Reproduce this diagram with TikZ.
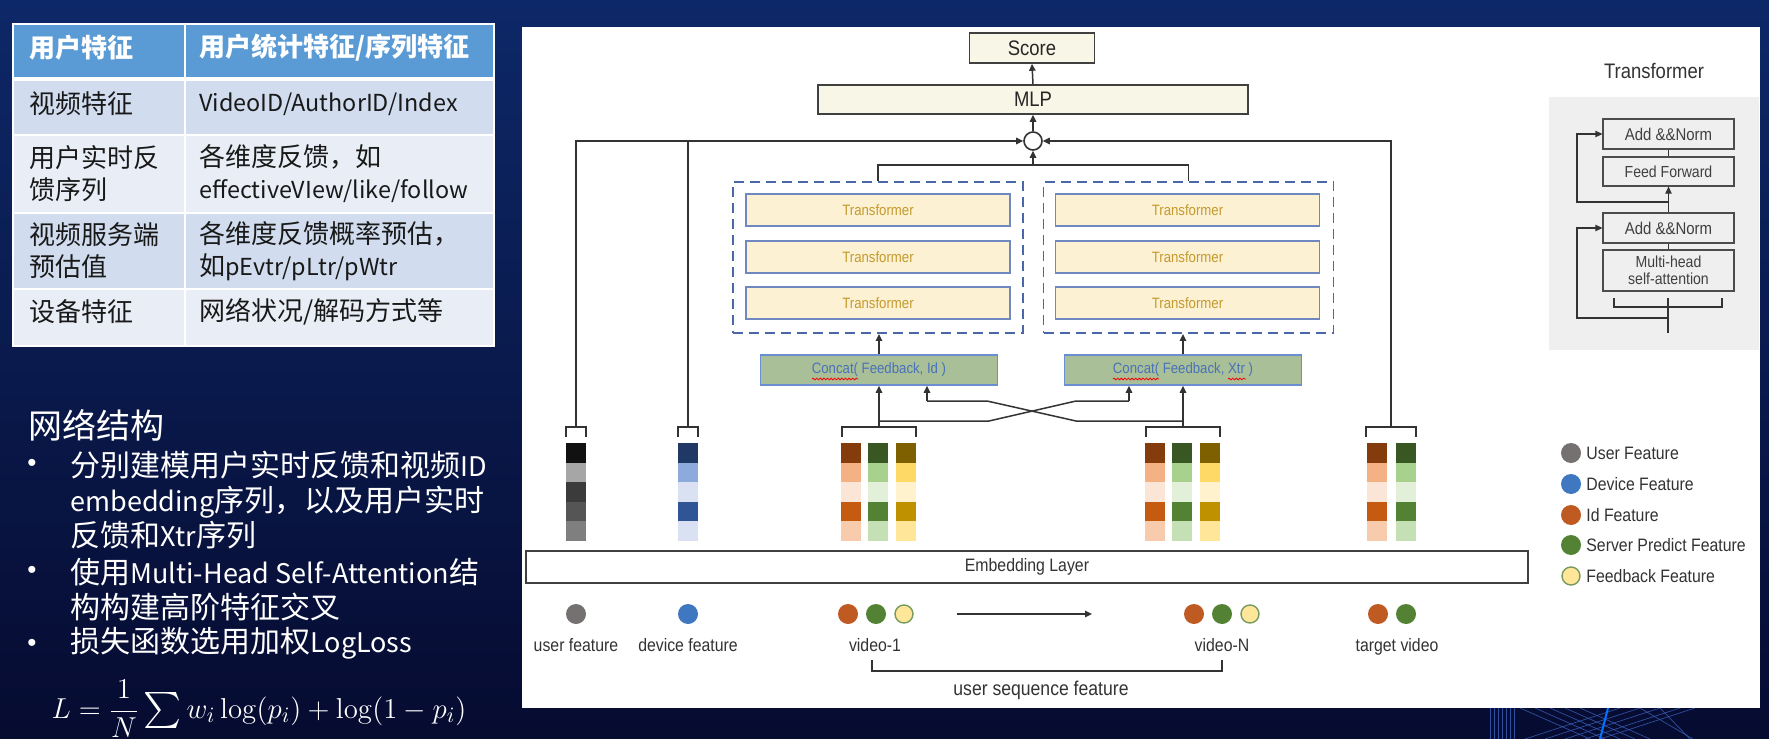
\documentclass[tikz,border=0pt]{standalone}
\usepackage[no-math]{fontspec}
\setmainfont{Liberation Sans}
\newfontfamily\cjk{Noto Sans CJK SC}
\newfontfamily\cjkl[Scale=0.9]{Noto Sans CJK SC}
\newfontfamily\dg[FakeStretch=0.88]{Liberation Sans}
\usetikzlibrary{arrows.meta,decorations.pathmorphing}
\definecolor{bgtop}{HTML}{0D2868}
\definecolor{bgmid}{HTML}{0B1E5C}
\definecolor{bgbot}{HTML}{060B30}
\definecolor{thead}{HTML}{5B9BD5}
\definecolor{rowA}{HTML}{D1DDEE}
\definecolor{rowB}{HTML}{E9EEF6}
\definecolor{cream}{HTML}{F8F6E6}
\definecolor{tfill}{HTML}{FCF1D2}
\definecolor{tborder}{HTML}{7088C0}
\definecolor{tgold}{HTML}{C49A2E}
\definecolor{dashblue}{HTML}{4A68A8}
\definecolor{cfill}{HTML}{A8BF98}
\definecolor{cborder}{HTML}{6A8ED0}
\definecolor{ctext}{HTML}{4A72B8}
\definecolor{panelgray}{HTML}{EFEFEF}
\definecolor{dotgray}{HTML}{767171}
\definecolor{dotblue}{HTML}{3F78C0}
\definecolor{dotorange}{HTML}{C05A23}
\definecolor{dotgreen}{HTML}{548235}
\definecolor{dotyellow}{HTML}{FFE699}
\definecolor{deco}{HTML}{3A5FB8}
\definecolor{u1}{HTML}{111111}\definecolor{u2}{HTML}{A6A6A6}\definecolor{u3}{HTML}{3B3B3B}\definecolor{u4}{HTML}{555555}\definecolor{u5}{HTML}{7F7F7F}
\definecolor{d1}{HTML}{203864}\definecolor{d2}{HTML}{8EA9DB}\definecolor{d3}{HTML}{D9E1F2}\definecolor{d4}{HTML}{2F5597}\definecolor{d5}{HTML}{D9E1F2}
\definecolor{i1}{HTML}{843C0C}\definecolor{i2}{HTML}{F4B183}\definecolor{i3}{HTML}{FBE5D6}\definecolor{i4}{HTML}{C55A11}\definecolor{i5}{HTML}{F8CBAD}
\definecolor{g1}{HTML}{385723}\definecolor{g2}{HTML}{A9D18E}\definecolor{g3}{HTML}{E2F0D9}\definecolor{g4}{HTML}{548235}\definecolor{g5}{HTML}{C5E0B4}
\definecolor{y1}{HTML}{7F6000}\definecolor{y2}{HTML}{FFD966}\definecolor{y3}{HTML}{FFF2CC}\definecolor{y4}{HTML}{BF9000}\definecolor{y5}{HTML}{FFE699}
\newcommand\embcol[3]{%
  \foreach \c [count=\i] in {#3} {
    \node[cell, fill=\c] (#1-\i) at (#2, {452.75+19.5*(\i-1)}) {};
  }}
\newcommand\brk[3]{%
  \draw[ln] (#1,437) -- (#1,427) -- (#2,427) -- (#2,437);
  \coordinate (#3) at ({(#1+#2)/2},427);}
\newcommand\La[1]{{\cjkl #1}}
\newcommand\bigsum{\mathop{\vcenter{\hbox{\scalebox{1.8}{$\sum$}}}}}
\begin{document}
\begin{tikzpicture}[x=0.5pt,y=-0.5pt,
  ln/.style={line width=0.75pt, draw=black!80},
  arr/.style={ln, -{Triangle[length=3.5pt,width=3.2pt]}},
  wavy/.style={draw=red, line width=0.4pt, decorate, decoration={snake, amplitude=0.45pt, segment length=1.8pt}},
  sbox/.style={draw=black!75, line width=0.8pt, fill=cream, inner sep=0, font=\dg\fontsize{10.5}{12}\selectfont, text=black!85},
  tbox/.style={draw=tborder, line width=0.8pt, fill=tfill, text=tgold, font=\dg\fontsize{7.5}{9}\selectfont, minimum width=132pt, minimum height=16pt, inner sep=0},
  dbox/.style={draw=dashblue, dash pattern=on 5pt off 3pt, line width=0.9pt, minimum width=145pt, minimum height=75.5pt, inner sep=0},
  cbox/.style={draw=cborder, fill=cfill, line width=0.8pt, text=ctext, font=\dg\fontsize{7.5}{9}\selectfont, minimum width=118.5pt, minimum height=15pt, inner sep=0},
  cell/.style={minimum width=10pt, minimum height=9.75pt, inner sep=0, draw=none},
  dot/.style={circle, minimum size=10pt, inner sep=0},
  lbl/.style={font=\dg\fontsize{9}{11}\selectfont, text=black!80, inner sep=0},
  pbox/.style={draw=black!70, line width=0.6pt, fill=panelgray, minimum width=65.5pt, inner sep=0, text=black!75, font=\dg\fontsize{8.5}{8.7}\selectfont, align=center},
  tabh/.style={anchor=west, inner sep=0, text=white, font=\cjk\bfseries\fontsize{13}{16}\selectfont},
  tabt/.style={anchor=west, inner sep=0, text=black!90, align=left, font=\cjk\fontsize{13}{16}\selectfont},
  wtxt/.style={anchor=west, inner sep=0, text=white, align=left, font=\cjk\fontsize{15}{17.5}\selectfont},
]
\useasboundingbox (0,0) rectangle (1769,739);
% background
\shade[top color=bgtop, middle color=bgmid, bottom color=bgbot] (0,0) rectangle (1769,739);
% decorative lines bottom right
\begin{scope}[draw=deco, line width=0.35pt, opacity=0.8]
  \foreach \xx in {1490,1494,1498,1502,1506,1510,1514}
    \draw (\xx,708) -- (\xx,739);
  \foreach \xx in {1520,1535,1550,1565,1580}
    \draw (\xx,708) -- ({\xx+70},739);
  \foreach \xx in {1620,1640,1660,1680,1695}
    \draw (\xx,708) -- ({\xx-95},739);
  \draw (1640,708) -- (1693,739);
  \draw (1660,708) -- (1690,739);
\end{scope}
\draw[color=blue!55!cyan, line width=1pt] (1608,708) -- (1600,739);
% white panel
\fill[white] (522,27) rectangle (1760,708);

% ---------- table ----------
\fill[thead] (13,24) rectangle (494,79);
\fill[rowA] (13,79) rectangle (494,135);
\fill[rowB] (13,135) rectangle (494,213);
\fill[rowA] (13,213) rectangle (494,289);
\fill[rowB] (13,289) rectangle (494,346);
\draw[white, line width=1.2pt] (13,24) rectangle (494,346);
\draw[white, line width=2.2pt] (13,79) -- (494,79);
\draw[white, line width=1pt] (13,135) -- (494,135) (13,213) -- (494,213) (13,289) -- (494,289) (185,24) -- (185,346);
\node[tabh] (h1) at (29,48) {用户特征};
\node[tabh] (h2) at (199,48) {用户统计特征/序列特征};
\node[tabt] (r1a) at (29,104) {视频特征};
\node[tabt] (r1b) at (199,104) {\La{VideoID/AuthorID/Index}};
\node[tabt] (r2a) at (29,174) {用户实时反\\馈序列};
\node[tabt] (r2b) at (199,174) {各维度反馈，如\\\La{effectiveVIew/like/follow}};
\node[tabt] (r3a) at (29,251) {视频服务端\\预估值};
\node[tabt] (r3b) at (199,251) {各维度反馈概率预估，\\如\La{pEvtr/pLtr/pWtr}};
\node[tabt] (r4a) at (29,312) {设备特征};
\node[tabt] (r4b) at (199,312) {网络状况/解码方式等};

% ---------- left text ----------
\node[anchor=west, inner sep=0, text=white, font=\cjk\fontsize{17}{20}\selectfont] (title) at (28,425) {网络结构};
\node[text=white, inner sep=0, font=\fontsize{13}{15}\selectfont] (b1) at (32,465) {•};
\node[text=white, inner sep=0, font=\fontsize{13}{15}\selectfont] (b2) at (32,572) {•};
\node[text=white, inner sep=0, font=\fontsize{13}{15}\selectfont] (b3) at (32,645) {•};
\node[wtxt] (t1) at (70,500) {分别建模用户实时反馈和视频\La{ID}\\\La{embedding}序列，以及用户实时\\反馈和\La{Xtr}序列};
\node[wtxt] (t2) at (70,589.5) {使用\La{Multi-Head Self-Attention}结\\构构建高阶特征交叉};
\node[wtxt] (t3) at (70,643) {损失函数选用加权\La{LogLoss}};
\node[text=white, inner sep=0, font=\fontsize{15.5}{17}\selectfont] (formula) at (259,709) {$\displaystyle L=\frac{1}{N}\bigsum w_i\log(p_i)+\log(1-p_i)$};

% ---------- main diagram ----------
\node[sbox, minimum width=62.5pt, minimum height=15pt] (score) at (1032,48) {Score};
\node[sbox, minimum width=215pt, minimum height=14.5pt] (mlp) at (1033,99.5) {MLP};
\node[circle, draw=black!80, line width=0.8pt, fill=white, minimum size=9pt, inner sep=0] (circ) at (1033,141) {};
\draw[arr] (circ.north) -- (mlp.south);
\draw[arr] (mlp.north) -- (score.south);

\node[dbox] (dashL) at (878,257.5) {};
\node[dbox] (dashR) at (1188.5,257.5) {};
\foreach \yy/\k in {210/1,257/2,303/3} {
  \node[tbox] (tL\k) at (878,\yy) {Transformer};
  \node[tbox] (tR\k) at (1187.5,\yy) {Transformer};
}
\coordinate (jn) at (1033,165);
\draw[ln] (dashL.north) -- (dashL.north |- jn) -- (dashR.north |- jn) -- (dashR.north);
\draw[arr] (jn) -- (circ.south);

\node[cbox] (concatL) at (879,370) {Concat( Feedback, Id )};
\node[cbox] (concatR) at (1183,370) {Concat( Feedback, Xtr )};
\draw[wavy] (812,379) -- (858,379);
\draw[wavy] (1113,379) -- (1159,379);
\draw[wavy] (1228,379) -- (1246,379);
\draw[arr] (concatL.north) -- (concatL.north |- dashL.south);
\draw[arr] (concatR.north) -- (concatR.north |- dashR.south);

% embedding columns
\embcol{uc}{576}{u1,u2,u3,u4,u5}
\embcol{dc}{688}{d1,d2,d3,d4,d5}
\embcol{v1a}{851}{i1,i2,i3,i4,i5}
\embcol{v1b}{878}{g1,g2,g3,g4,g5}
\embcol{v1c}{906}{y1,y2,y3,y4,y5}
\embcol{vNa}{1155}{i1,i2,i3,i4,i5}
\embcol{vNb}{1182}{g1,g2,g3,g4,g5}
\embcol{vNc}{1210}{y1,y2,y3,y4,y5}
\embcol{ta}{1377}{i1,i2,i3,i4,i5}
\embcol{tb}{1406}{g1,g2,g3,g4,g5}
\brk{566}{586}{ub}
\brk{678}{698}{db}
\brk{842}{916}{v1t}
\brk{1146}{1220}{vNt}
\brk{1366}{1416}{tt}

\draw[arr] (ub) |- (circ.west);
\draw[ln] (db) -- (db |- circ.west);
\draw[arr] (tt) |- (circ.east);
\draw[arr] (v1t) -- (v1t |- concatL.south);
\draw[arr] (vNt) -- (vNt |- concatR.south);
% crossing connections
\coordinate (xa) at (1129,401);
\coordinate (xb) at (927,401);
\coordinate (ca) at (879,421);
\coordinate (cb) at (1183,421);
\draw[ln] (ca) -- (989,421) -- (1076,401) -- (xa);
\draw[arr] (xa) -- (xa |- concatR.south);
\draw[ln] (xb) -- (987,401) -- (1076,421) -- (cb);
\draw[arr] (xb) -- (xb |- concatL.south);

\node[draw=black!75, line width=0.8pt, minimum width=501pt, minimum height=16pt, inner sep=0, font=\dg\fontsize{9}{11}\selectfont, text=black!80] (emb) at (1027,567) {Embedding Layer};

% bottom dots
\node[dot, fill=dotgray] (du) at (576,614) {};
\node[dot, fill=dotblue] (dd) at (688,614) {};
\node[dot, fill=dotorange] (d11) at (848,614) {};
\node[dot, fill=dotgreen] (d12) at (876,614) {};
\node[dot, fill=dotyellow, draw=dotgreen!80, line width=0.7pt, minimum size=9pt] (d13) at (904,614) {};
\node[dot, fill=dotorange] (dN1) at (1194,614) {};
\node[dot, fill=dotgreen] (dN2) at (1222,614) {};
\node[dot, fill=dotyellow, draw=dotgreen!80, line width=0.7pt, minimum size=9pt] (dN3) at (1250,614) {};
\node[dot, fill=dotorange] (dt1) at (1378,614) {};
\node[dot, fill=dotgreen] (dt2) at (1406,614) {};
\coordinate (sa) at (957,614);
\coordinate (sb) at (1092,614);
\draw[arr] (sa) -- (sb);
\node[lbl] (lu) at (576,645) {user feature};
\node[lbl] (ld) at (688,645) {device feature};
\node[lbl] (lv1) at (875,645) {video-1};
\node[lbl] (lvN) at (1222,645) {video-N};
\node[lbl] (lt) at (1397,647) {target video};
\draw[ln] (872,660) -- (872,671) -- (1222,671) -- (1222,660);
\node[lbl, font=\dg\fontsize{10}{12}\selectfont] (lseq) at (1041,690) {user sequence feature};

% legend
\node[dot, fill=dotgray] (g1d) at (1571,453) {};
\node[dot, fill=dotblue] (g2d) at (1571,484) {};
\node[dot, fill=dotorange] (g3d) at (1571,515) {};
\node[dot, fill=dotgreen] (g4d) at (1571,545) {};
\node[dot, fill=dotyellow, draw=dotgreen!80, line width=0.7pt, minimum size=9pt] (g5d) at (1571,576) {};
\node[lbl, anchor=west] (g1t) at (1586,453) {User Feature};
\node[lbl, anchor=west] (g2t) at (1586,484) {Device Feature};
\node[lbl, anchor=west] (g3t) at (1586,515) {Id Feature};
\node[lbl, anchor=west] (g4t) at (1586,545) {Server Predict Feature};
\node[lbl, anchor=west] (g5t) at (1586,576) {Feedback Feature};

% transformer detail panel
\node[lbl, font=\dg\fontsize{10.5}{12}\selectfont] (ttitle) at (1654,71) {Transformer};
\fill[panelgray] (1549,97) rectangle (1759,350);
\node[pbox, minimum height=15pt] (an1) at (1668.5,134) {Add \&\&Norm};
\node[pbox, minimum height=14.5pt, font=\dg\fontsize{8}{8.5}\selectfont] (ff) at (1668.5,171.5) {Feed Forward};
\node[pbox, minimum height=15pt] (an2) at (1668.5,228) {Add \&\&Norm};
\node[pbox, minimum height=20.5pt, font=\dg\fontsize{8}{8.5}\selectfont] (mh) at (1668.5,270.5) {Multi-head\\self-attention};
\draw[ln, line width=0.6pt] (an1.south) -- (ff.north);
\draw[arr, line width=0.6pt] (an2.north) -- (ff.south);
\draw[ln, line width=0.6pt] (an2.south) -- (mh.north);
\coordinate (tin) at (1668,333);
\coordinate (tbr) at (1668,298);
\draw[ln, line width=0.6pt] (tin) -- (tbr);
\draw[ln, line width=0.6pt] (1614,298) -- (1614,307) -- (1722,307) -- (1722,298);
\coordinate (lp1) at (1668,202);
\coordinate (lp2) at (1668,318);
\draw[arr, line width=0.6pt] (lp1) -- (1577,202) |- (an1.west);
\draw[arr, line width=0.6pt] (lp2) -- (1577,318) |- (an2.west);
\end{tikzpicture}
\end{document}
